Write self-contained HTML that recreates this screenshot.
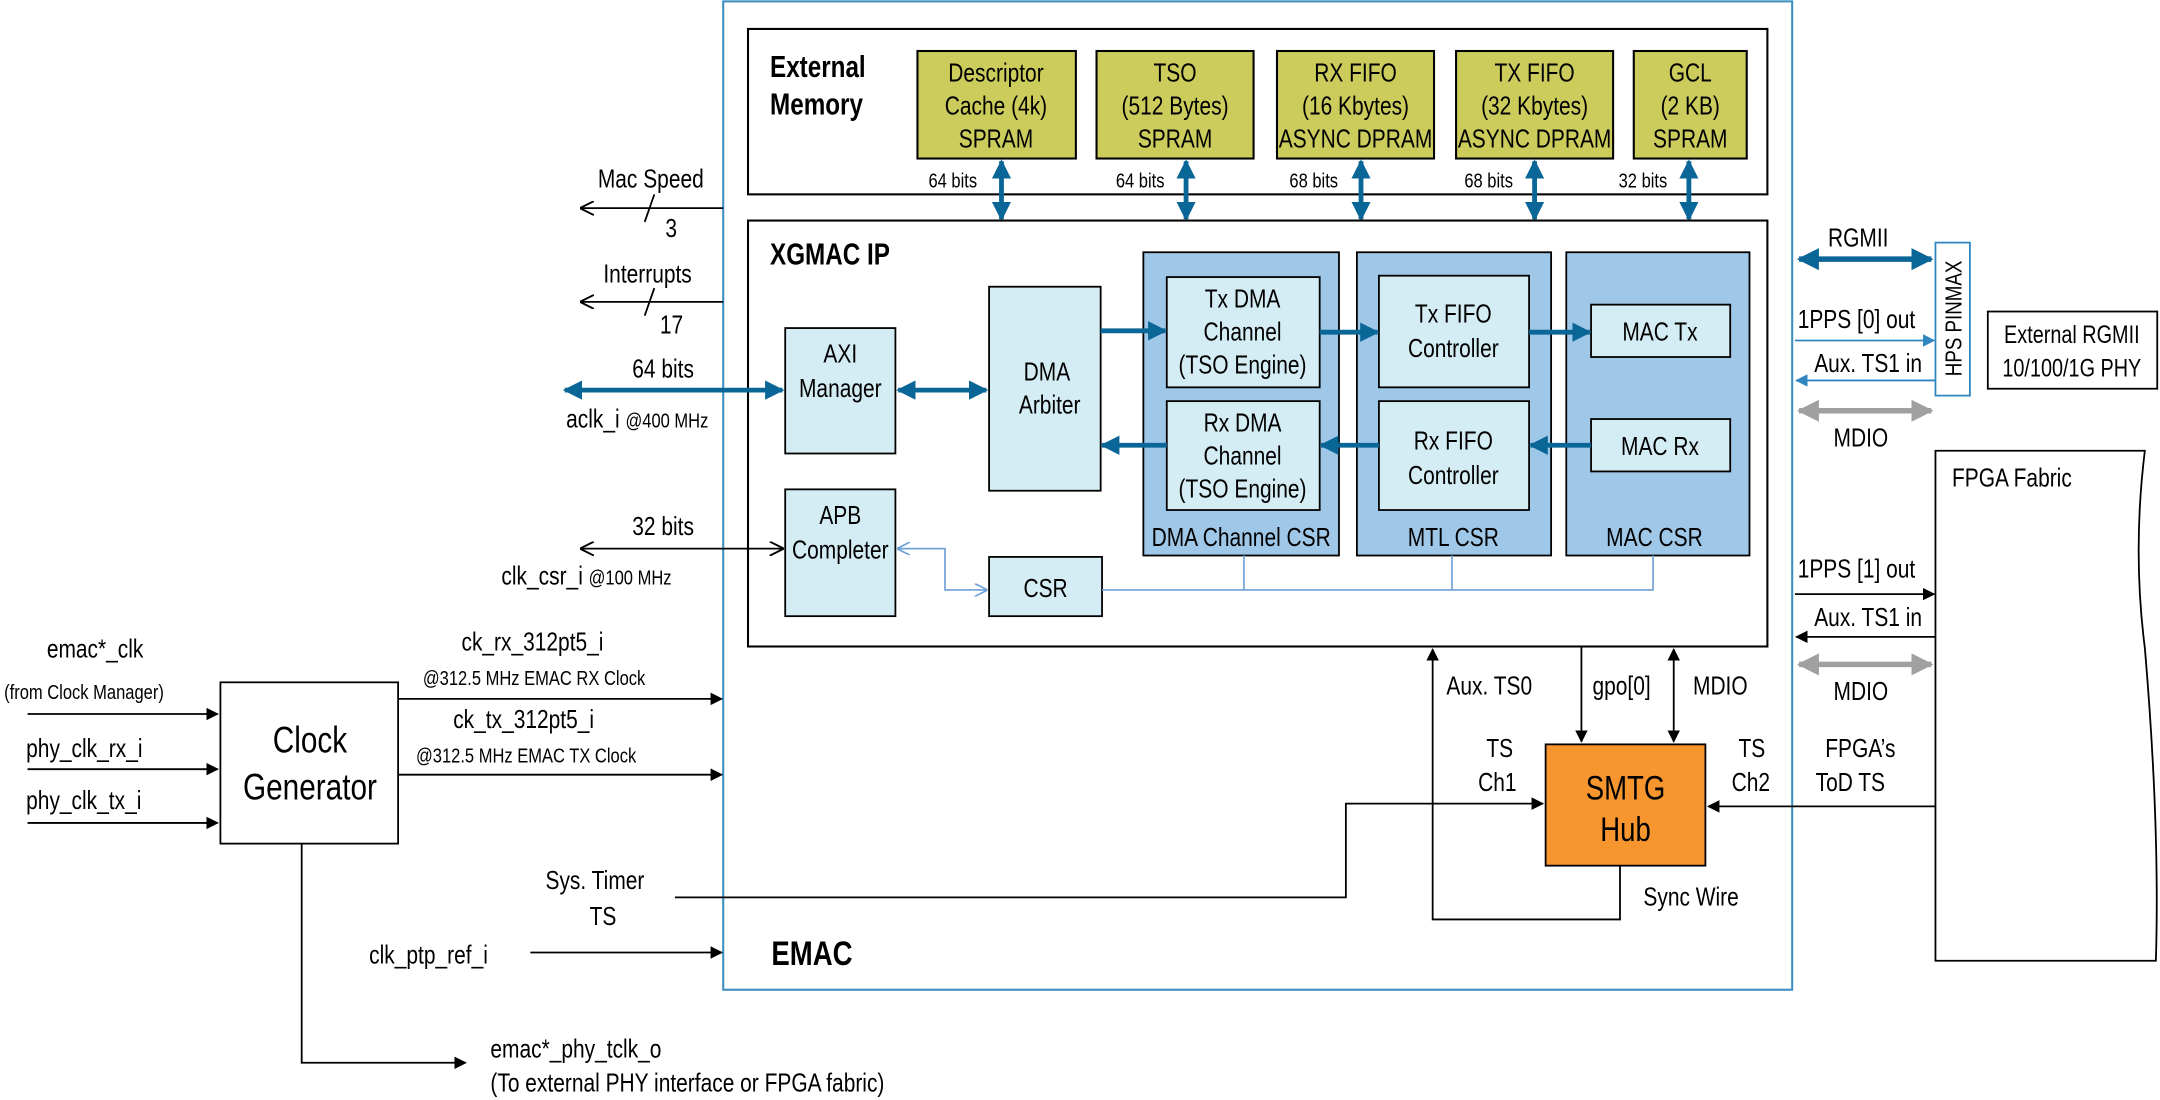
<!DOCTYPE html>
<html><head><meta charset="utf-8"><style>
html,body{margin:0;padding:0;background:#fff;}
svg{display:block;}
text{font-family:"Liberation Sans Narrow","Liberation Sans",sans-serif;font-size:19px;fill:#000;transform-box:fill-box;transform-origin:left center;transform:scaleX(.8);}
.m text,text.m{transform-origin:center;}
.b{font-weight:bold;font-size:22px;}
.s{font-size:15px;}
</style></head><body>
<svg width="2160" height="1100" viewBox="0 0 1568 798" preserveAspectRatio="none" xmlns="http://www.w3.org/2000/svg">
<defs>
<marker id="ab" viewBox="0 0 10 10" refX="9" refY="5" markerWidth="4" markerHeight="4" orient="auto-start-reverse"><path d="M0,0L10,5L0,10z" fill="#0b6698"/></marker>
<marker id="ak" viewBox="0 0 10 10" refX="9" refY="5" markerWidth="7" markerHeight="7" orient="auto-start-reverse"><path d="M0,0L10,5L0,10z" fill="#000"/></marker>
<marker id="ao" viewBox="0 0 10 10" refX="9" refY="5" markerWidth="8" markerHeight="8" orient="auto-start-reverse"><path d="M0,0L10,5L0,10" fill="none" stroke="#000" stroke-width="1.3"/></marker>
<marker id="al" viewBox="0 0 10 10" refX="9" refY="5" markerWidth="8" markerHeight="8" orient="auto-start-reverse"><path d="M0,0L10,5L0,10" fill="none" stroke="#6fa0d8" stroke-width="1.3"/></marker>
<marker id="ag" viewBox="0 0 10 10" refX="9" refY="5" markerWidth="4" markerHeight="4" orient="auto-start-reverse"><path d="M0,0L10,5L0,10z" fill="#a0a0a0"/></marker>
<marker id="abt" viewBox="0 0 10 10" refX="9" refY="5" markerWidth="7" markerHeight="7" orient="auto-start-reverse"><path d="M0,0L10,5L0,10z" fill="#2f86c0"/></marker>
</defs>
<!-- EMAC -->
<rect x="525" y="1" width="776" height="717" fill="#fff" stroke="#3a8fc0" stroke-width="1.5"/>
<text x="560" y="700" class="b" style="font-size:25px">EMAC</text>
<!-- External memory -->
<rect x="543" y="21" width="740" height="120" fill="none" stroke="#000" stroke-width="1.5"/>
<text x="559" y="56" class="b">External</text><text x="559" y="83" class="b">Memory</text>
<g fill="#cccc5c" stroke="#000" stroke-width="1.5">
<rect x="666" y="37" width="115" height="78"/><rect x="796" y="37" width="114" height="78"/><rect x="927" y="37" width="114" height="78"/><rect x="1057" y="37" width="114" height="78"/><rect x="1186" y="37" width="82" height="78"/></g>
<g text-anchor="middle" class="m">
<text x="723" y="59">Descriptor</text><text x="723" y="83">Cache (4k)</text><text x="723" y="107">SPRAM</text>
<text x="853" y="59">TSO</text><text x="853" y="83">(512 Bytes)</text><text x="853" y="107">SPRAM</text>
<text x="984" y="59">RX FIFO</text><text x="984" y="83">(16 Kbytes)</text><text x="984" y="107">ASYNC DPRAM</text>
<text x="1114" y="59">TX FIFO</text><text x="1114" y="83">(32 Kbytes)</text><text x="1114" y="107">ASYNC DPRAM</text>
<text x="1227" y="59">GCL</text><text x="1227" y="83">(2 KB)</text><text x="1227" y="107">SPRAM</text>
</g>
<text x="674" y="136" class="s">64 bits</text><text x="810" y="136" class="s">64 bits</text><text x="936" y="136" class="s">68 bits</text><text x="1063" y="136" class="s">68 bits</text><text x="1175" y="136" class="s">32 bits</text>
<g stroke="#0b6698" stroke-width="3.5" marker-start="url(#ab)" marker-end="url(#ab)">
<line x1="727" y1="117" x2="727" y2="159"/><line x1="861" y1="117" x2="861" y2="159"/><line x1="988" y1="117" x2="988" y2="159"/><line x1="1114" y1="117" x2="1114" y2="159"/><line x1="1226" y1="117" x2="1226" y2="159"/></g>
<!-- XGMAC -->
<rect x="543" y="160" width="740" height="309" fill="none" stroke="#000" stroke-width="1.5"/>
<text x="559" y="192" class="b">XGMAC IP</text>
<g stroke="#000" stroke-width="1.3">
<rect x="830" y="183" width="142" height="220" fill="#9fc7e7"/>
<rect x="985" y="183" width="141" height="220" fill="#9fc7e7"/>
<rect x="1137" y="183" width="133" height="220" fill="#9fc7e7"/>
</g>
<g fill="#d4ecf3" stroke="#000" stroke-width="1.3">
<rect x="570" y="238" width="80" height="91"/><rect x="718" y="208" width="81" height="148"/>
<rect x="847" y="201" width="111" height="80"/><rect x="847" y="291" width="111" height="79"/>
<rect x="1001" y="200" width="109" height="81"/><rect x="1001" y="291" width="109" height="79"/>
<rect x="1155" y="221" width="101" height="38"/><rect x="1155" y="304" width="101" height="38"/>
<rect x="570" y="355" width="80" height="92"/><rect x="718" y="404" width="82" height="43"/>
</g>
<g text-anchor="middle" class="m">
<text x="610" y="263">AXI</text><text x="610" y="288">Manager</text>
<text x="760" y="276">DMA</text><text x="762" y="300">Arbiter</text>
<text x="902" y="223">Tx DMA</text><text x="902" y="247">Channel</text><text x="902" y="271">(TSO Engine)</text>
<text x="902" y="313">Rx DMA</text><text x="902" y="337">Channel</text><text x="902" y="361">(TSO Engine)</text>
<text x="1055" y="234">Tx FIFO</text><text x="1055" y="259">Controller</text>
<text x="1055" y="326">Rx FIFO</text><text x="1055" y="351">Controller</text>
<text x="1205" y="247">MAC Tx</text><text x="1205" y="330">MAC Rx</text>
<text x="610" y="380">APB</text><text x="610" y="405">Completer</text>
<text x="759" y="433">CSR</text>
<text x="901" y="396">DMA Channel CSR</text><text x="1055" y="396">MTL CSR</text><text x="1201" y="396">MAC CSR</text>
</g>
<g stroke="#0b6698" stroke-width="3.5">
<line x1="652" y1="283" x2="716" y2="283" marker-start="url(#ab)" marker-end="url(#ab)"/>
<line x1="799" y1="240" x2="846" y2="240" marker-end="url(#ab)"/>
<line x1="958" y1="241" x2="1000" y2="241" marker-end="url(#ab)"/>
<line x1="1110" y1="241" x2="1154" y2="241" marker-end="url(#ab)"/>
<line x1="1155" y1="323" x2="1111" y2="323" marker-end="url(#ab)"/>
<line x1="1001" y1="323" x2="959" y2="323" marker-end="url(#ab)"/>
<line x1="847" y1="323" x2="800" y2="323" marker-end="url(#ab)"/>
<line x1="410" y1="283" x2="568" y2="283" marker-start="url(#ab)" marker-end="url(#ab)"/>
</g>
<g stroke="#6fa0d8" stroke-width="1.2" fill="none">
<path d="M800,428H1200V403M903,428V403M1054,428V403"/>
<path d="M652,398H686V428H716" marker-start="url(#al)" marker-end="url(#al)"/>
</g>
<!-- left signals -->
<g stroke="#000" stroke-width="1.3" fill="none">
<line x1="525" y1="151" x2="422" y2="151" marker-end="url(#ao)"/><line x1="468" y1="161" x2="475" y2="141"/>
<line x1="525" y1="219" x2="422" y2="219" marker-end="url(#ao)"/><line x1="468" y1="229" x2="475" y2="209"/>
<line x1="422" y1="398" x2="568" y2="398" marker-start="url(#ao)" marker-end="url(#ao)"/>
</g>
<text x="434" y="136">Mac Speed</text><text x="483" y="172">3</text>
<text x="438" y="205">Interrupts</text><text x="479" y="242">17</text>
<text x="459" y="274">64 bits</text><text x="411" y="310">aclk_i <tspan class="s" style="font-size:15px">@400 MHz</tspan></text>
<text x="459" y="388">32 bits</text><text x="364" y="424">clk_csr_i <tspan style="font-size:15px">@100 MHz</tspan></text>
<!-- clock gen -->
<rect x="160" y="495" width="129" height="117" fill="#fff" stroke="#000" stroke-width="1.3"/>
<g class="m"><text x="225" y="546" text-anchor="middle" style="font-size:27px">Clock</text><text x="225" y="580" text-anchor="middle" style="font-size:27px">Generator</text></g>
<g stroke="#000" stroke-width="1.3" marker-end="url(#ak)">
<line x1="20" y1="518" x2="158" y2="518"/><line x1="20" y1="558" x2="158" y2="558"/><line x1="20" y1="597" x2="158" y2="597"/>
<line x1="289" y1="507" x2="524" y2="507"/><line x1="289" y1="562" x2="524" y2="562"/>
<line x1="385" y1="691" x2="524" y2="691"/>
<polyline points="219,612 219,771 338,771" fill="none"/>
<polyline points="490,651 977,651 977,583 1120,583" fill="none"/>
<polyline points="1176,628 1176,667 1040,667 1040,471" fill="none"/>
<line x1="1148" y1="469" x2="1148" y2="538"/>
<line x1="1215" y1="471" x2="1215" y2="538" marker-start="url(#ak)"/>
<line x1="1405" y1="585" x2="1240" y2="585"/>
<line x1="1303" y1="431" x2="1404" y2="431"/>
<line x1="1405" y1="462" x2="1304" y2="462"/>
</g>
<text x="34" y="477">emac*_clk</text><text x="3" y="507" class="s">(from Clock Manager)</text>
<text x="19" y="549">phy_clk_rx_i</text><text x="19" y="587">phy_clk_tx_i</text>
<text x="335" y="472">ck_rx_312pt5_i</text><text x="307" y="497" class="s">@312.5 MHz EMAC RX Clock</text>
<text x="329" y="528">ck_tx_312pt5_i</text><text x="302" y="553" class="s">@312.5 MHz EMAC TX Clock</text>
<text x="396" y="645">Sys. Timer</text><text x="428" y="671">TS</text>
<text x="268" y="699">clk_ptp_ref_i</text>
<text x="356" y="767">emac*_phy_tclk_o</text><text x="356" y="792">(To external PHY interface or FPGA fabric)</text>
<!-- SMTG -->
<rect x="1122" y="540" width="116" height="88" fill="#f7952f" stroke="#000" stroke-width="1.3"/>
<g class="m"><text x="1180" y="580" text-anchor="middle" style="font-size:25px">SMTG</text><text x="1180" y="610" text-anchor="middle" style="font-size:25px">Hub</text></g>
<text x="1050" y="504">Aux. TS0</text><text x="1156" y="504">gpo[0]</text><text x="1229" y="504">MDIO</text>
<text x="1079" y="549">TS</text><text x="1073" y="574">Ch1</text>
<text x="1262" y="549">TS</text><text x="1257" y="574">Ch2</text>
<text x="1325" y="549">FPGA’s</text><text x="1318" y="574">ToD TS</text>
<text x="1193" y="657">Sync Wire</text>
<!-- right side -->
<rect x="1405" y="176" width="25" height="111" fill="#fff" stroke="#2f86c0" stroke-width="1.3"/>
<g transform="translate(1424,231) rotate(-90)" class="m"><text x="0" y="0" text-anchor="middle" style="font-size:17px">HPS PINMAX</text></g>
<line x1="1306" y1="188" x2="1402" y2="188" stroke="#0b6698" stroke-width="4" marker-start="url(#ab)" marker-end="url(#ab)"/>
<line x1="1303" y1="247" x2="1404" y2="247" stroke="#2f86c0" stroke-width="1.3" marker-end="url(#abt)"/>
<line x1="1405" y1="276" x2="1304" y2="276" stroke="#2f86c0" stroke-width="1.3" marker-end="url(#abt)"/>
<line x1="1306" y1="298" x2="1402" y2="298" stroke="#a0a0a0" stroke-width="4" marker-start="url(#ag)" marker-end="url(#ag)"/>
<line x1="1306" y1="482" x2="1402" y2="482" stroke="#a0a0a0" stroke-width="4" marker-start="url(#ag)" marker-end="url(#ag)"/>
<text x="1327" y="179">RGMII</text><text x="1305" y="238">1PPS [0] out</text><text x="1317" y="270">Aux. TS1 in</text><text x="1331" y="324">MDIO</text>
<text x="1305" y="419">1PPS [1] out</text><text x="1317" y="454">Aux. TS1 in</text><text x="1331" y="508">MDIO</text>
<rect x="1443" y="226" width="123" height="56" fill="#fff" stroke="#000" stroke-width="1.3"/>
<g class="m"><text x="1504" y="249" text-anchor="middle" style="font-size:18px">External RGMII</text><text x="1504" y="273" text-anchor="middle" style="font-size:18px">10/100/1G PHY</text></g>
<path d="M1405,327H1557Q1548,400 1557,470Q1568,600 1565,697H1405Z" fill="#fff" stroke="#000" stroke-width="1.3"/>
<text x="1417" y="353">FPGA Fabric</text>
</svg>
</body></html>
